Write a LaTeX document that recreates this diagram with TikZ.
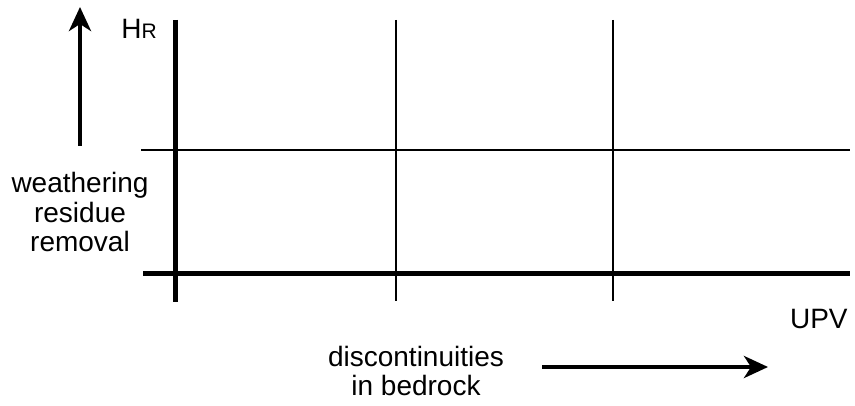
\documentclass[tikz,border=0pt]{standalone}
\usepackage{fontspec}
\setmainfont{Liberation Sans}
\usetikzlibrary{arrows.meta, positioning}

\begin{document}
\begin{tikzpicture}[
    x=0.5pt, y=-0.5pt,
    label/.style={align=center, font=\fontsize{14}{14.6}\selectfont, inner sep=0pt},
    axis/.style={line width=2.5pt},
    grid/.style={line width=1pt},
    arrow/.style={-{Stealth[length=12pt, width=11pt, inset=3.5pt]}, line width=2.2pt}
]
\useasboundingbox (0,0) rectangle (855,406);

% Koordinaten
\coordinate (yTop) at (175,20);
\coordinate (yBot) at (175,302);
\coordinate (xLeft) at (143,273);
\coordinate (xRight) at (850,273);
\coordinate (midLeft) at (141,150);
\coordinate (midRight) at (850,150);
\coordinate (upStart) at (80,146);
\coordinate (upEnd) at (80,7);
\coordinate (rightStart) at (542,367);
\coordinate (rightEnd) at (768,367);

% Gitter
\draw [grid] (midLeft) -- (midRight);
\foreach \xx/\nm in {396/a, 613/b} {
    \draw [grid] (\xx,20) coordinate (\nm top) -- (\xx,301) coordinate (\nm bot);
}
\draw [axis] (yTop) -- (yBot);
\draw [axis] (xLeft) -- (xRight);

% Beschriftungen
\node (hr) [label, anchor=base west] at (121,39) {H{\fontsize{10.5}{11}\selectfont R}};
\node (weather) [label] at (80,212) {weathering\\residue\\removal};
\node (upv) [label, anchor=base east] at (848,328) {UPV};
\node (discont) [label] at (416,371) {discontinuities\\in bedrock};

% Pfeile
\draw [arrow] (upStart) -- (upEnd);
\draw [arrow] (rightStart) -- (rightEnd);

\end{tikzpicture}
\end{document}
